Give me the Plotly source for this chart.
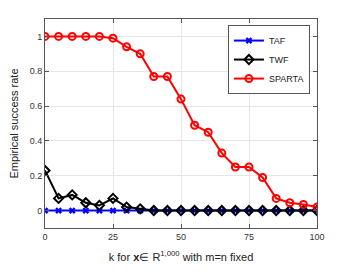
import plotly.graph_objects as go

k_values = [0, 5, 10, 15, 20, 25, 30, 35, 40, 45, 50, 55, 60, 65, 70, 75, 80, 85, 90, 95, 100]
taf = [0] * 21
twf = [0.23, 0.07, 0.09, 0.045, 0.03, 0.07, 0.02, 0.01, 0, 0, 0, 0, 0, 0, 0, 0, 0, 0, 0, 0, 0]
sparta = [1, 1, 1, 1, 1, 0.99, 0.94, 0.90, 0.77, 0.77, 0.64, 0.49, 0.45, 0.33, 0.25, 0.25, 0.19, 0.07, 0.045, 0.035, 0.02]
x_ticks = [0, 25, 50, 75, 100]
y_ticks = [0, 0.2, 0.4, 0.6, 0.8, 1]
y_tick_labels = ["0", "0.2", "0.4", "0.6", "0.8", "1"]

fig = go.Figure()
fig.add_trace(go.Scatter(x=k_values, y=taf, name="TAF", mode="lines+markers",
                         line=dict(color="#0000ff", width=2),
                         marker=dict(symbol="x", size=6, color="#0000ff")))
fig.add_trace(go.Scatter(x=k_values, y=twf, name="TWF", mode="lines+markers",
                         line=dict(color="#000000", width=2),
                         marker=dict(symbol="diamond-open", size=7, color="#000000",
                                     line=dict(width=2, color="#000000"))))
fig.add_trace(go.Scatter(x=k_values, y=sparta, name="SPARTA", mode="lines+markers",
                         line=dict(color="#ff0000", width=2),
                         marker=dict(symbol="circle-open", size=7, color="#ff0000",
                                     line=dict(width=2, color="#ff0000"))))

axis_common = dict(showline=True, linecolor="#555555", linewidth=1, mirror="ticks",
                   ticks="inside", ticklen=4, tickcolor="#555555",
                   showgrid=True, gridcolor="#e6e6e6", gridwidth=1, zeroline=False,
                   automargin=False,
                   tickfont=dict(family="Liberation Sans, Arial, sans-serif", size=9, color="#333333"))

fig.update_layout(
    width=342, height=266,
    margin=dict(l=37, r=33, t=11, b=46),
    paper_bgcolor="white", plot_bgcolor="white",
    font=dict(family="Liberation Sans, Arial, sans-serif", color="#222222"),
    xaxis=dict(range=[0, 100], tickvals=x_ticks,
               title=dict(text="k for <b>x</b>∈ R<sup>1,000</sup> with m=n fixed",
                          font=dict(size=11), standoff=12),
               **axis_common),
    yaxis=dict(range=[-0.1, 1.1], tickvals=y_ticks, ticktext=y_tick_labels,
               title=dict(text="Empirical success rate", font=dict(size=11), standoff=10),
               **axis_common),
    legend=dict(x=0.974, y=0.971, xanchor="right", yanchor="top",
                bgcolor="white", bordercolor="#555555", borderwidth=1,
                font=dict(size=9), tracegroupgap=0, itemwidth=30),
    showlegend=True,
)

fig.write_html("out.html")
